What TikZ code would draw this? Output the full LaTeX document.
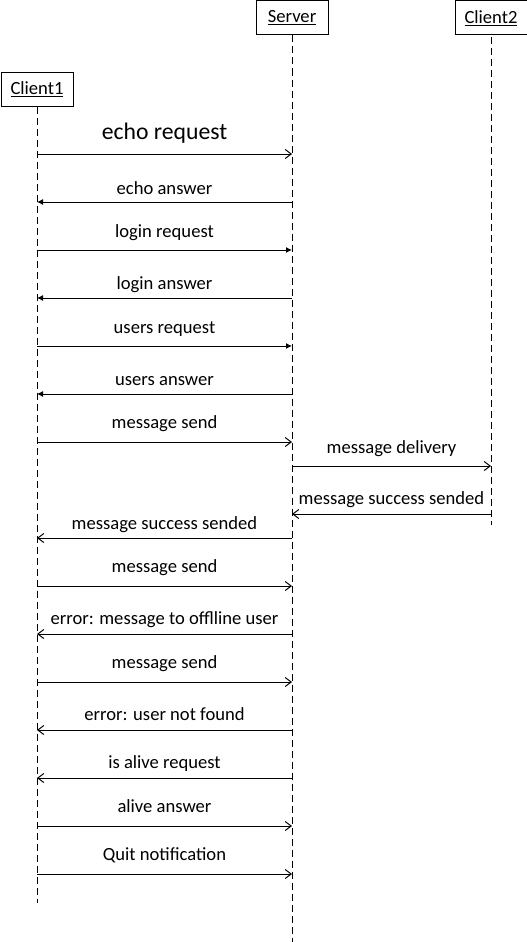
\documentclass[tikz,border=0pt]{standalone}
\usepackage{fontspec}
\setmainfont{Carlito}
\usetikzlibrary{arrows.meta,positioning}

\tikzset{
  objbox/.style={draw, minimum width=72pt, minimum height=33pt, inner sep=0pt, font=\fontsize{18.6}{22}\selectfont},
  lifeline/.style={dash pattern=on 7pt off 4pt},
  msgopen/.style={-{Straight Barb[length=6pt,width=9pt]}},
  msgfill/.style={-{Latex[length=6pt,width=6pt]}},
  msglabel/.style={midway, anchor=base, inner sep=0pt, font=\fontsize{18.6}{22}\selectfont}
}

\begin{document}
\begin{tikzpicture}[x=1pt, y=-1pt, line width=1pt]
    \useasboundingbox (0,0) rectangle (527,942);
    % Objekte
    \node[objbox, anchor=north west] (client1) at (0.5,72.5) {\underline{Client1}};
    \node[objbox, anchor=north west, minimum height=34pt] (server) at (255.5,0.5) {\underline{Server}};
    \node[objbox, anchor=north west, minimum height=34pt] (client2) at (454.5,0.5) {\underline{Client2}};
    % Lebenslinien
    \coordinate (c1end) at (client1.south |- 0,903);
    \coordinate (srvend) at (server.south |- 0,942);
    \coordinate (c2top) at (client2.south |- 0,37);
    \coordinate (c2end) at (client2.south |- 0,525);
    \draw[lifeline] (client1.south) -- (c1end);
    \draw[lifeline] (server.south) -- (srvend);
    \draw[lifeline] (c2top) -- (c2end);
    % Anmeldung
    \draw[msgopen] (client1 |- 0,154) -- node[msglabel, yshift=15pt, font=\fontsize{23.7}{28}\selectfont] {echo request} (server |- 0,154);
    \draw[msgfill] (server |- 0,202) -- node[msglabel, yshift=8pt] {echo answer} (client1 |- 0,202);
    \draw[msgfill] (client1 |- 0,250) -- node[msglabel, yshift=13pt] {login request} (server |- 0,250);
    \draw[msgfill] (server |- 0,298) -- node[msglabel, yshift=9pt] {login answer} (client1 |- 0,298);
    \draw[msgfill] (client1 |- 0,346) -- node[msglabel, yshift=13pt] {users request} (server |- 0,346);
    \draw[msgfill] (server |- 0,394) -- node[msglabel, yshift=9pt] {users answer} (client1 |- 0,394);
    % Nachrichten
    \draw[msgopen] (client1 |- 0,442) -- node[msglabel, yshift=14pt] {message send} (server |- 0,442);
    \draw[msgopen] (server |- 0,466) -- node[msglabel, yshift=13pt] {message delivery} (client2 |- 0,466);
    \draw[msgopen] (client2 |- 0,514) -- node[msglabel, yshift=10pt] {message success sended} (server |- 0,514);
    \draw[msgopen] (server |- 0,538) -- node[msglabel, yshift=9pt] {message success sended} (client1 |- 0,538);
    \draw[msgopen] (client1 |- 0,586) -- node[msglabel, yshift=14pt] {message send} (server |- 0,586);
    \draw[msgopen] (server |- 0,634) -- node[msglabel, yshift=10pt] {error: message to offlline user} (client1 |- 0,634);
    \draw[msgopen] (client1 |- 0,682) -- node[msglabel, yshift=14pt] {message send} (server |- 0,682);
    \draw[msgopen] (server |- 0,730) -- node[msglabel, yshift=10pt] {error: user not found} (client1 |- 0,730);
    % Alive / Ende
    \draw[msgopen] (server |- 0,778) -- node[msglabel, yshift=10pt] {is alive request} (client1 |- 0,778);
    \draw[msgopen] (client1 |- 0,826) -- node[msglabel, yshift=14pt] {alive answer} (server |- 0,826);
    \draw[msgopen] (client1 |- 0,874) -- node[msglabel, yshift=14pt] {Quit notification} (server |- 0,874);
\end{tikzpicture}
\end{document}
